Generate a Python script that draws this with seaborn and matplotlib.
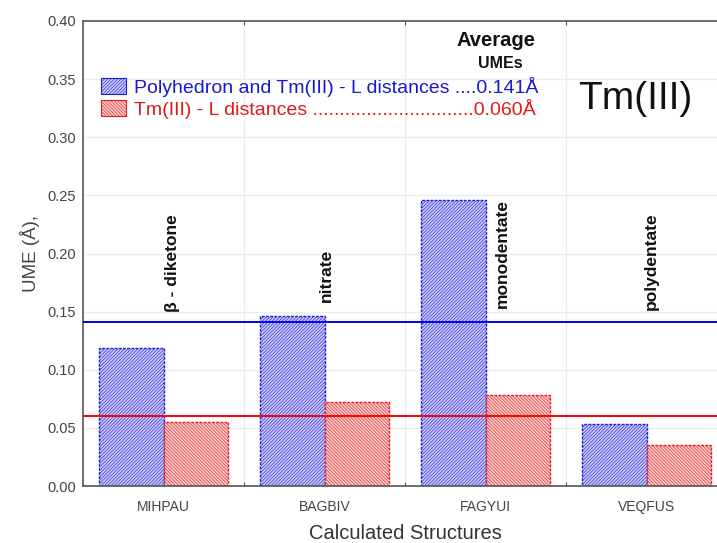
import matplotlib
matplotlib.use("Agg")
import matplotlib.pyplot as plt
import seaborn as sns
import pandas as pd
import numpy as np

structures = ["MIHPAU", "BAGBIV", "FAGYUI", "VEQFUS"]
poly_ume = [0.119, 0.146, 0.246, 0.053]
tm_l_ume = [0.055, 0.072, 0.078, 0.035]
ligand_types = ["β - diketone", "nitrate", "monodentate", "polydentate"]
avg_poly = 0.141
avg_tml = 0.060
series_names = ["Polyhedron and Tm(III) - L distances ....0.141Å",
                "Tm(III) - L distances ..............................0.060Å"]
yticks = [0.00, 0.05, 0.10, 0.15, 0.20, 0.25, 0.30, 0.35, 0.40]

sns.set_style("white")
plt.rcParams['font.family'] = ['Liberation Sans', 'DejaVu Sans']
plt.rcParams['hatch.linewidth'] = 0.45

df = pd.DataFrame({
    "structure": structures * 2,
    "ume": poly_ume + tm_l_ume,
    "series": [series_names[0]] * 4 + [series_names[1]] * 4,
})

fig = plt.figure(figsize=(7.17, 5.43), dpi=100)
ax = fig.add_axes([83 / 717, (543 - 486) / 543, (727 - 83) / 717, (486 - 21) / 543])

sns.barplot(data=df, x="structure", y="ume", hue="series", order=structures,
            hue_order=series_names, palette=["#cdcdf8", "#f9cfcf"],
            width=0.8, ax=ax, legend=False, saturation=1)

edge_cols = ["#1a1ae0", "#e81a1a"]
hatches = ["//////////", "\\\\\\\\\\\\\\\\\\\\"]
for i, cont in enumerate(ax.containers):
    for p in cont:
        p.set_edgecolor(edge_cols[i])
        p.set_hatch(hatches[i])
        p.set_linewidth(1.0)
        p.set_linestyle((0, (2, 1)))
        p.set_zorder(2)

ax.axhline(avg_poly, color="#0000ee", lw=1.4, zorder=3)
ax.axhline(avg_tml, color="#ff0000", lw=1.4, zorder=3)

ax.set_ylim(0, 0.40)
ax.set_xlim(-0.5, 3.5)
ax.set_yticks(yticks)
ax.set_yticklabels([f"{v:.2f}" for v in yticks])
ax.set_xticks(range(len(structures)))
ax.set_xticklabels(structures)
ax.set_xticks([0.5, 1.5, 2.5], minor=True)

for y in yticks[1:]:
    ax.axhline(y, color="#ececec", lw=0.9, zorder=0)
for x in [0.5, 1.5, 2.5]:
    ax.axvline(x, color="#ececec", lw=0.9, zorder=0)

ax.tick_params(axis="y", which="major", direction="out", length=3, width=0.8,
               color="#555555", labelsize=10.5, labelcolor="#444444", pad=2)
ax.tick_params(axis="x", which="major", length=0, labelsize=10, labelcolor="#444444", pad=10)
ax.tick_params(axis="x", which="minor", direction="in", length=3, width=0.8,
               color="#555555", top=True, bottom=True)

for s in ["left", "bottom", "top", "right"]:
    ax.spines[s].set_color("#555555")
    ax.spines[s].set_linewidth(1.2)

ax.set_xlabel("Calculated Structures", fontsize=14.5, color="#333333", labelpad=7)
ax.set_ylabel("UME (Å),", fontsize=13.5, color="#444444", labelpad=5)

lab_dx = [0.056, 0.012, 0.106, 0.03]
lab_y = [0.150, 0.158, 0.153, 0.151]
for i, t in enumerate(ligand_types):
    ax.text(i + lab_dx[i], lab_y[i], t, rotation=90, ha="center", va="bottom",
            fontsize=12.5, fontweight="bold", color="#111111", zorder=4)

handles = [plt.Rectangle((0, 0), 1, 1, facecolor=c, edgecolor=e, hatch=h, lw=0.8)
           for c, e, h in zip(["#cdcdf8", "#f9cfcf"], edge_cols, hatches)]
leg = ax.legend(handles, series_names, loc="upper left", frameon=False,
                bbox_to_anchor=(0.0, 0.917), fontsize=14, handlelength=1.3,
                handleheight=0.9, handletextpad=0.4, labelspacing=0.1)
for txt, c in zip(leg.get_texts(), ["#1a1acc", "#e01a1a"]):
    txt.set_color(c)

fig.text(496 / 717, 1 - 40 / 543, "Average", ha="center", va="center",
         fontsize=14.5, fontweight="bold", color="#111111")
fig.text(500 / 717, 1 - 63 / 543, "UMEs", ha="center", va="center",
         fontsize=11.5, fontweight="bold", color="#111111")
fig.text(635 / 717, 1 - 99 / 543, "Tm(III)", ha="center", va="center",
         fontsize=28, color="#111111")

fig.savefig("out.png", dpi=100)
